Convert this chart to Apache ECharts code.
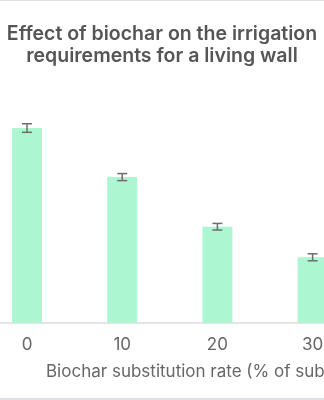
<!DOCTYPE html>
<html>
<head>
<meta charset="utf-8">
<script src="https://cdn.jsdelivr.net/npm/echarts@6/dist/echarts.min.js"></script>
<style>
  html, body { margin: 0; padding: 0; background: #ffffff; }
  #chart { width: 324px; height: 400px; }
</style>
</head>
<body>
<div id="chart"></div>
<script>
// Biochar substitution rates (% of substrate) shown along the x axis
const rates = ['0', '10', '20', '30'];
// Irrigation requirement, relative to the control (0 % biochar = 100)
const irrigation = [100, 74.8, 49.3, 33.6];
// Standard error for each treatment
const stdErr = [2.2, 1.8, 1.7, 1.8];

const FONT = 'Inter';

const chart = echarts.init(document.getElementById('chart'), null, { renderer: 'canvas' });

const errorData = rates.map((r, i) => [i, irrigation[i] - stdErr[i], irrigation[i] + stdErr[i]]);

chart.setOption({
  animation: false,
  backgroundColor: '#ffffff',
  textStyle: { fontFamily: FONT },
  title: {
    text: 'Effect of biochar on the irrigation\nrequirements for a living wall',
    left: 'center',
    top: 18,
    textStyle: {
      fontFamily: FONT,
      fontSize: 19.5,
      fontWeight: 600,
      color: '#555555',
      lineHeight: 22,
      align: 'center'
    }
  },
  grid: {
    left: -20.6,
    width: 380.8,
    top: 30.7,
    bottom: 77.3,
    outerBoundsMode: 'none'
  },
  xAxis: {
    type: 'category',
    data: rates,
    name: 'Biochar substitution rate (% of substrate)',
    nameLocation: 'start',
    nameGap: -66.6,
    nameTextStyle: {
      fontFamily: FONT,
      fontSize: 17,
      color: '#666666',
      align: 'left',
      verticalAlign: 'top',
      padding: [41, 0, 0, 0]
    },
    axisLine: { show: true, lineStyle: { color: '#dddddd', width: 1.5 } },
    axisTick: { show: false },
    axisLabel: {
      fontFamily: FONT,
      fontSize: 17,
      color: '#666666',
      margin: 14
    }
  },
  yAxis: {
    type: 'value',
    min: 0,
    max: 150,
    show: false,
    splitLine: { show: false }
  },
  graphic: [
    { type: 'rect', shape: { x: 0, y: 0, width: 324, height: 1 }, style: { fill: '#dfe3e6' }, silent: true },
    { type: 'rect', shape: { x: 0, y: 398, width: 324, height: 2 }, style: { fill: '#e1e1e5' }, silent: true }
  ],
  series: [
    {
      type: 'bar',
      data: irrigation,
      barWidth: 30,
      itemStyle: { color: '#adf6d2' }
    },
    {
      type: 'custom',
      data: errorData,
      z: 10,
      renderItem: function (params, api) {
        const x = api.value(0);
        const lo = api.coord([x, api.value(1)]);
        const hi = api.coord([x, api.value(2)]);
        const half = 5;
        const style = { stroke: '#6e6e6e', lineWidth: 1.5 };
        return {
          type: 'group',
          children: [
            { type: 'line', shape: { x1: hi[0], y1: hi[1], x2: lo[0], y2: lo[1] }, style: style },
            { type: 'line', shape: { x1: hi[0] - half, y1: hi[1], x2: hi[0] + half, y2: hi[1] }, style: style },
            { type: 'line', shape: { x1: lo[0] - half, y1: lo[1], x2: lo[0] + half, y2: lo[1] }, style: style }
          ]
        };
      }
    }
  ]
});
</script>
</body>
</html>
